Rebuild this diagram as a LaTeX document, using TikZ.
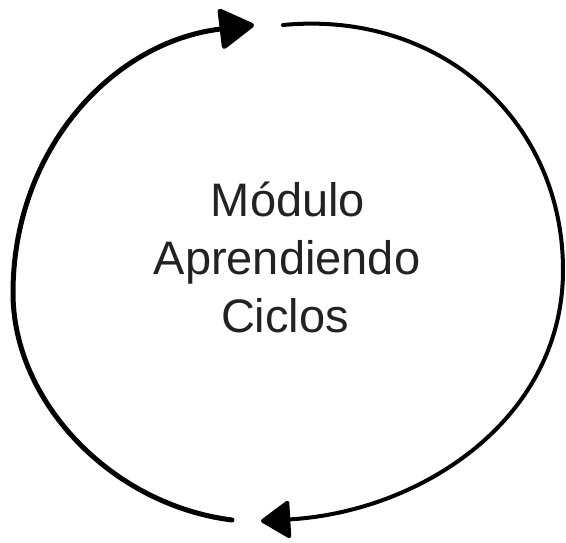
\documentclass[tikz,border=0pt]{standalone}
\usepackage{fontspec}
\setmainfont{Liberation Sans}
\usetikzlibrary{arrows.meta}
\definecolor{txt}{HTML}{222222}
\tikzset{
  arc/.style={line cap=round, line join=round},
  lbl/.style={anchor=base, inner sep=0pt, text=txt, font=\fontsize{47}{58}\selectfont},
}
\begin{document}
\begin{tikzpicture}[x=1pt,y=-1pt]
\useasboundingbox (0,0) rectangle (566,542);
% anchor coordinates
\coordinate (s1) at (232,520);
\coordinate (l1) at (13,293);
\coordinate (e1) at (254,25);
\coordinate (s2) at (283,25);
\coordinate (r2) at (563,270);
\coordinate (e2) at (261,521);
% left arc: bottom -> top
\draw[arc, line width=5pt, -{Triangle[length=37pt,width=43pt,round]}]
  (s1) .. controls (112,505) and (13,402) .. (l1)
       .. controls (13,150) and (112,42) .. (e1);
% right arc: top -> bottom
\draw[arc, line width=4pt, -{Triangle[length=31pt,width=40pt,round]}]
  (s2) .. controls (440,10) and (563,120) .. (r2)
       .. controls (563,420) and (420,512) .. (e2);
% text
\node[lbl] (t1) at (288,216) {Módulo};
\node[lbl] (t2) at (287,274) {Aprendiendo};
\node[lbl] (t3) at (285,332) {Ciclos};
\end{tikzpicture}
\end{document}
